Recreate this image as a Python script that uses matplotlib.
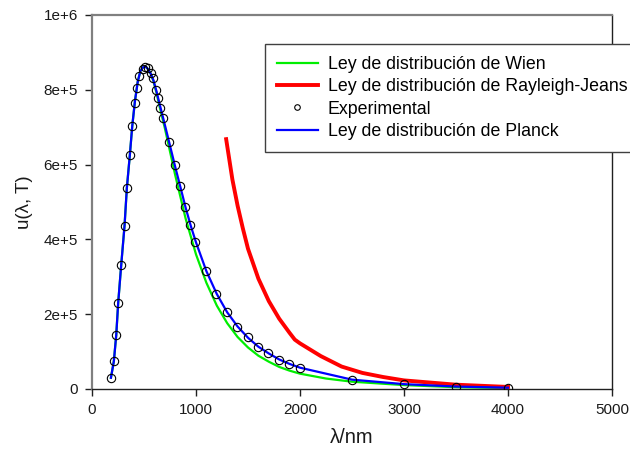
import matplotlib
matplotlib.use("Agg")
import matplotlib.pyplot as plt

# ---- data ----
lam_exp = [182, 210, 233, 252, 281, 313, 335, 364, 387, 413, 428, 454, 487, 509, 535,
           566, 589, 618, 632, 656, 685, 742, 797, 845, 893, 944, 993, 1095, 1192,
           1295, 1393, 1496, 1593, 1689, 1795, 1897, 2000, 2500, 3000, 3500, 4000]
u_exp = [30e3, 74e3, 144e3, 231e3, 332e3, 437e3, 537e3, 626e3, 703e3, 765e3, 805e3,
         838e3, 856e3, 862e3, 858e3, 844e3, 831e3, 800e3, 779e3, 752e3, 724e3, 660e3,
         599e3, 543e3, 487e3, 438e3, 392e3, 316e3, 254e3, 207e3, 167e3, 138e3, 113e3,
         96e3, 78e3, 66e3, 57e3, 25e3, 13e3, 6.5e3, 3.5e3]

lam_planck = [182, 210, 233, 252, 281, 313, 335, 364, 387, 413, 440, 465, 490, 515, 540,
              565, 590, 620, 650, 690, 740, 800, 850, 900, 950, 1000, 1100, 1200, 1300,
              1400, 1500, 1600, 1700, 1800, 1900, 2000, 2500, 3000, 3500, 4000]
u_planck = [30e3, 74e3, 144e3, 231e3, 332e3, 437e3, 537e3, 626e3, 703e3, 770e3, 822e3,
            850e3, 860e3, 862e3, 855e3, 843e3, 826e3, 796e3, 762e3, 718e3, 662e3, 594e3,
            540e3, 485e3, 436e3, 392e3, 315e3, 254e3, 205e3, 167e3, 137e3, 113e3, 95e3,
            79e3, 67e3, 57e3, 25e3, 13e3, 6.5e3, 3.5e3]

lam_wien = [182, 210, 233, 252, 281, 313, 335, 364, 387, 413, 440, 465, 490, 515, 540,
            565, 590, 620, 650, 700, 800, 900, 1000, 1100, 1200, 1300, 1400, 1500, 1600,
            1700, 1800, 1900, 2000, 2250, 2500, 3000, 3500, 4000]
u_wien = [30e3, 74e3, 144e3, 231e3, 332e3, 437e3, 537e3, 626e3, 703e3, 770e3, 822e3,
          850e3, 860e3, 862e3, 855e3, 843e3, 824e3, 792e3, 755e3, 698e3, 572e3, 456e3,
          360e3, 284e3, 223e3, 176e3, 139e3, 111e3, 89e3, 73e3, 59e3, 49e3, 41e3, 28e3,
          19.5e3, 10.5e3, 4.8e3, 2.5e3]

lam_rj = [1290, 1350, 1400, 1450, 1500, 1600, 1700, 1800, 1900, 1950, 2000, 2200, 2400,
          2600, 2800, 3000, 3500, 4000]
u_rj = [668e3, 560e3, 490e3, 430e3, 375e3, 295e3, 235e3, 188e3, 150e3, 132e3, 122e3,
        88e3, 60e3, 43e3, 32e3, 23e3, 11.5e3, 5.5e3]

xticks = [0, 1000, 2000, 3000, 4000, 5000]
yticks = [0, 2e5, 4e5, 6e5, 8e5, 1e6]
ytick_labels = ["0", "2e+5", "4e+5", "6e+5", "8e+5", "1e+6"]

labels = ["Ley de distribución de Wien", "Ley de distribución de Rayleigh-Jeans",
          "Experimental", "Ley de distribución de Planck"]

plt.rcParams['font.family'] = ['Liberation Sans', 'DejaVu Sans']

W, H = 630, 457
fig = plt.figure(figsize=(W / 100, H / 100), dpi=100)
ax = fig.add_axes([92 / W, 1 - 389 / H, (612 - 92) / W, (389 - 15) / H])

l_w, = ax.plot(lam_wien, u_wien, color='#00ee00', lw=1.6, zorder=2)
l_rj, = ax.plot(lam_rj, u_rj, color='#ff0000', lw=2.8, zorder=3)
l_p, = ax.plot(lam_planck, u_planck, color='#0000ff', lw=1.6, zorder=4)
l_e, = ax.plot(lam_exp, u_exp, linestyle='none', marker='o', markersize=6,
               markerfacecolor='none', markeredgecolor='black', markeredgewidth=0.8,
               zorder=5)

ax.set_xlim(0, 5000)
ax.set_ylim(0, 1e6)
ax.set_xticks(xticks)
ax.set_xticklabels([str(t) for t in xticks])
ax.set_yticks(yticks)
ax.set_yticklabels(ytick_labels)
ax.tick_params(axis='both', direction='out', length=5, width=1, color='#202020',
               labelsize=11, labelcolor='#1a1a1a', pad=5)
ax.tick_params(top=False, right=False)

for side in ['left', 'top']:
    ax.spines[side].set_color('#808080')
    ax.spines[side].set_linewidth(1.6)
for side in ['right', 'bottom']:
    ax.spines[side].set_color('#202020')
    ax.spines[side].set_linewidth(1.0)

ax.set_xlabel("λ/nm", fontsize=14.5, labelpad=8, color='#1a1a1a')
ax.set_ylabel("u(λ, T)", fontsize=13.5, labelpad=8, color='#1a1a1a')

leg_marker, = ax.plot([], [], linestyle='none', marker='o', markersize=4,
                      markerfacecolor='none', markeredgecolor='black', markeredgewidth=0.8)
leg = fig.legend([l_w, l_rj, leg_marker, l_p], labels,
                 loc='upper left', bbox_to_anchor=(265 / W, 1 - 44 / H),
                 bbox_transform=fig.transFigure, borderaxespad=0,
                 fontsize=12.8, frameon=True, fancybox=False, handlelength=2.3,
                 handletextpad=0.56, labelspacing=0.3, borderpad=0.67)
frame = leg.get_frame()
frame.set_edgecolor('#404040')
frame.set_linewidth(1.0)
frame.set_alpha(1)

fig.savefig("out.png", dpi=100)
